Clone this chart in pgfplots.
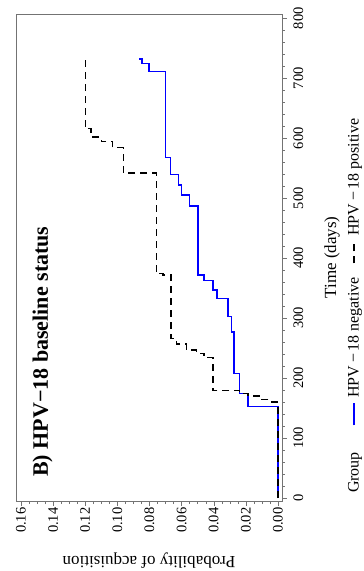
\documentclass[border=0pt]{standalone}
\usepackage{fontspec}
\setmainfont{Liberation Serif}
\usepackage{pgfplots}
\pgfplotsset{compat=1.18}
\definecolor{axgray}{gray}{0.45}
\begin{document}
\begin{tikzpicture}
\begin{scope}[rotate=90,transform shape]
\path[use as bounding box] (-70pt,-82pt) -- (501pt,-82pt) -- (501pt,282pt) -- (-70pt,282pt) -- cycle;
\begin{axis}[
  scale only axis, width=487pt, height=266pt,
  xmin=-5, xmax=807, ymin=-0.0025, ymax=0.1631,
  axis line style={axgray},
  tick align=outside, tick pos=left,
  xtick={0,100,200,300,400,500,600,700,800}, minor x tick num=4,
  ytick={0,0.02,0.04,0.06,0.08,0.10,0.12,0.14,0.16}, minor y tick num=3,
  scaled y ticks=false,
  major tick length=5pt, minor tick length=3pt,
  every tick/.style={axgray},
  yticklabel style={/pgf/number format/fixed, /pgf/number format/fixed zerofill, /pgf/number format/precision=2, anchor=east, xshift=2pt},
  /pgf/number format/assume math mode=true,
  ticklabel style={font=\fontsize{14.5}{17}\selectfont},
  xticklabel style={anchor=north, yshift=-3pt},
  xlabel={Time (days)}, ylabel={Probability of acquisition},
  label style={font=\fontsize{17}{20}\selectfont},
  xlabel style={at={(axis description cs:0.5,-0.188)}, anchor=center},
  ylabel style={at={(axis description cs:-0.1215,0.5)}, anchor=center},
  legend columns=-1,
  legend style={at={(axis description cs:0.006,-0.2707)}, anchor=west, draw=none, fill=none,
    font=\fontsize{16}{19}\selectfont, inner sep=0pt, nodes={inner sep=0pt},
    column sep=0pt,
    /tikz/every odd column/.style={column sep=5pt},
    /tikz/column 2/.style={column sep=26pt},
    /tikz/column 4/.style={column sep=13pt}},
  legend image code/.code={\draw[#1] (0pt,0pt) -- (22pt,0pt);},
]
\addlegendimage{empty legend}
\addlegendentry{Group}
\addplot[const plot, blue, line width=1.4pt] coordinates {
(0,0) (153,0.0186) (174,0.0238) (208,0.0275) (277,0.029) (303,0.031)
(333,0.0379) (347,0.0404) (363,0.046) (372,0.0498) (487,0.055) (505,0.0602)
(522,0.0619) (539,0.067) (568,0.070) (711,0.0804) (724,0.0846) (732,0.0858) (734,0.0858)};
\addlegendentry{HPV\,−\,18 negative}
\addplot[const plot, black, line width=1.4pt, dash pattern=on 7pt off 5pt] coordinates {
(0,0) (160,0.005) (164,0.011) (170,0.0186) (174,0.0238) (179,0.0404)
(234,0.046) (241,0.0508) (247,0.057) (257,0.0633) (266,0.0665) (372,0.0717)
(374,0.0758) (542,0.0963) (584,0.103) (594,0.110) (602,0.1165) (616,0.12) (731,0.12)};
\addlegendentry{HPV\,−\,18 positive}
\node[anchor=base west, inner sep=0pt, font=\fontsize{22}{26}\selectfont\bfseries]
  at (axis description cs:0.0493,0.8797) {B) HPV−18 baseline status};
\end{axis}
\end{scope}
\end{tikzpicture}
\end{document}
